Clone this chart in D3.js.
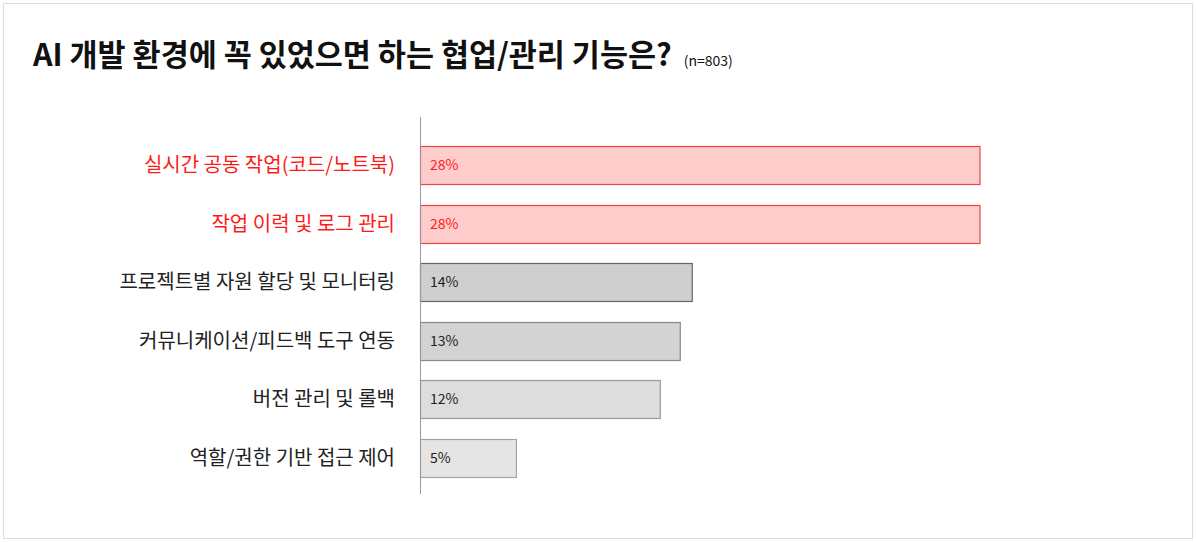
<html>
  <head>
    <meta charset="utf-8">
    <title>AI 개발 환경 협업/관리 기능</title>
    <style>
      body {
        margin: 0;
        background: #fff;
        font-family: "Noto Sans CJK KR", sans-serif;
      }
      svg text {
        font-family: "Noto Sans CJK KR", sans-serif;
      }
    </style>
    <script src="https://d3js.org/d3.v7.min.js"></script>
  </head>
  <body>
    <svg id="chart"></svg>
    <script>
      // categories, values and the labels shown inside the bars
      const categories = [
        '실시간 공동 작업(코드/노트북)',
        '작업 이력 및 로그 관리',
        '프로젝트별 자원 할당 및 모니터링',
        '커뮤니케이션/피드백 도구 연동',
        '버전 관리 및 롤백',
        '역할/권한 기반 접근 제어'
      ];
      const values = [28.0, 28.0, 13.6, 13.0, 12.0, 4.8];
      const valueLabels = ['28%', '28%', '14%', '13%', '12%', '5%'];
      const highlighted = [true, true, false, false, false, false];
      const fills = ['#ffcccc', '#ffcccc', '#cfcfcf', '#d3d3d3', '#dddddd', '#e5e5e5'];
      const strokes = ['#ee4444', '#ee4444', '#666666', '#888888', '#999999', '#a3a3a3'];

      const width = 1196;
      const height = 542;

      const svg = d3.select('#chart')
        .attr('width', width)
        .attr('height', height);

      // light frame round the whole picture
      svg.append('rect')
        .attr('x', 3.5).attr('y', 3.5)
        .attr('width', width - 7).attr('height', height - 7)
        .attr('fill', '#fff')
        .attr('stroke', '#dddddd');

      // title
      const title = svg.append('text')
        .attr('x', 33)
        .attr('y', 66)
        .attr('fill', '#111')
        .style('font-size', '30.5px')
        .style('font-weight', 700);
      title.append('tspan').text('AI 개발 환경에 꼭 있었으면 하는 협업/관리 기능은?');
      title.append('tspan')
        .attr('dx', 12)
        .style('font-size', '14px')
        .style('font-weight', 400)
        .text('(n=803)');

      const x0 = 420;
      const xScale = d3.scaleLinear()
        .domain([0, 28])
        .range([x0, 979.5]);

      const yScale = d3.scaleBand()
        .domain(categories)
        .range([135.8, 487])
        .paddingInner(0.35)
        .paddingOuter(0.175);

      const rows = categories.map((c, i) => ({
        name: c, value: values[i], label: valueLabels[i],
        hi: highlighted[i], fill: fills[i], stroke: strokes[i]
      }));

      // bars
      svg.append('g')
        .selectAll('rect')
        .data(rows)
        .join('rect')
        .attr('x', x0 + 0.5)
        .attr('y', d => Math.round(yScale(d.name)) + 0.5)
        .attr('width', d => xScale(d.value) - x0)
        .attr('height', Math.round(yScale.bandwidth()))
        .attr('fill', d => d.fill)
        .attr('stroke', d => d.stroke)
        .attr('stroke-width', 1.2);

      // value labels inside the bars
      svg.append('g')
        .selectAll('text')
        .data(rows)
        .join('text')
        .attr('x', 430)
        .attr('y', d => yScale(d.name) + yScale.bandwidth() / 2)
        .attr('dy', '0.36em')
        .attr('fill', d => d.hi ? '#ff1a1a' : '#222')
        .style('font-size', '14px')
        .text(d => d.label);

      // category labels
      svg.append('g')
        .selectAll('text')
        .data(rows)
        .join('text')
        .attr('x', 395)
        .attr('y', d => yScale(d.name) + yScale.bandwidth() / 2)
        .attr('dy', '0.36em')
        .attr('text-anchor', 'end')
        .attr('fill', d => d.hi ? '#ff1a1a' : '#222')
        .style('font-size', '20px')
        .text(d => d.name);

      // vertical axis line
      svg.append('line')
        .attr('x1', x0 + 0.5).attr('x2', x0 + 0.5)
        .attr('y1', 117).attr('y2', 494)
        .attr('stroke', '#999');
    </script>
  </body>
</html>
